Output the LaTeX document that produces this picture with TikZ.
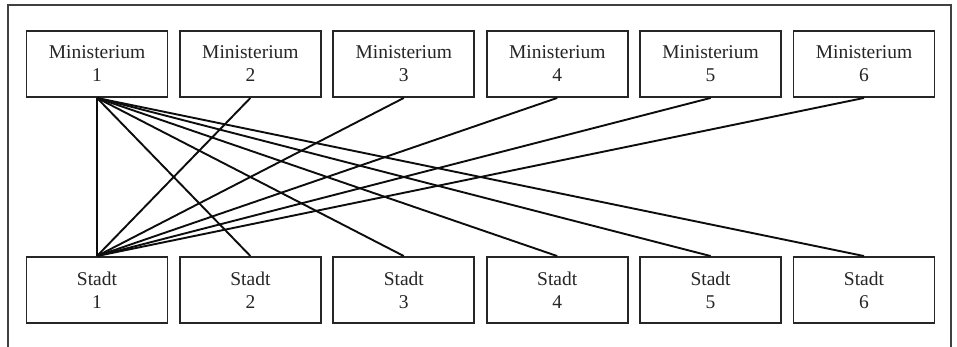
\documentclass[tikz,border=0pt]{standalone}
\usepackage{fontspec}
\setmainfont{Liberation Serif}
\begin{document}
\begin{tikzpicture}[x=1pt,y=-1pt,
  unitbox/.style={draw=black!85, line width=1.9pt, fill=white,
    minimum width=141pt, minimum height=66pt, inner sep=0pt,
    align=center, font=\fontsize{19.5}{23}\selectfont, text=black!85},
  link/.style={draw=black!95, line width=1.9pt},
  frame/.style={draw=black!75, line width=1.9pt}]
\useasboundingbox (0,0) rectangle (957,347);
\fill[white] (0,0) rectangle (957,347);
% open frame around the chart
\draw[frame] (8,347) -- (8,5) -- (951,5) -- (951,347);
% ministries (top row) and cities (bottom row)
\foreach \i in {1,...,6}{
  \node[unitbox] (m\i) at ({97+153.4*(\i-1)},64) {Ministerium\\\i};
  \node[unitbox] (s\i) at ({97+153.4*(\i-1)},290) {Stadt\\\i};
}
% ministry 1 reaches every city
\foreach \j in {1,...,6}{
  \draw[link] (m1.south) -- (s\j.north);
}
% every other ministry reaches city 1
\foreach \i in {2,...,6}{
  \draw[link] (m\i.south) -- (s1.north);
}
\end{tikzpicture}
\end{document}
